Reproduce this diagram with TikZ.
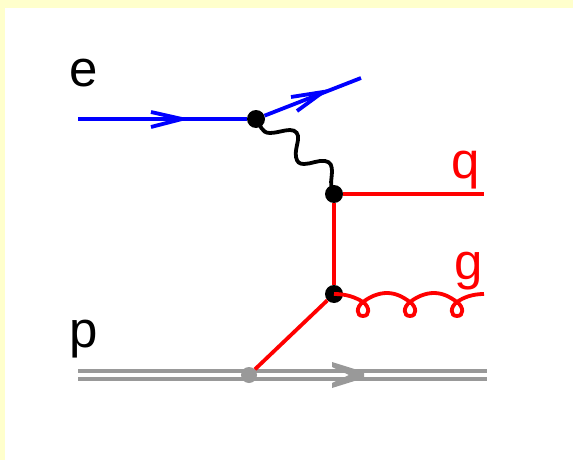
\documentclass[tikz,border=0pt]{standalone}
\usepackage{fontspec}
\setmainfont{Liberation Sans}
\usepackage{tikz}
\usetikzlibrary{positioning,calc}
\definecolor{paleyellow}{RGB}{255,255,204}
\definecolor{protongray}{RGB}{153,153,153}
\tikzset{
  vertexdot/.style={circle,fill=black,inner sep=0pt,minimum size=18pt},
  softdot/.style={circle,fill=protongray,inner sep=0pt,minimum size=16pt},
  lineblue/.style={blue,line width=3.8pt},
  linered/.style={red,line width=3.8pt},
  linewave/.style={black,line width=3.8pt},
  lineproton/.style={protongray,line width=3.6pt,double=white,double distance=4pt},
  lbl/.style={font=\fontsize{51}{51}\selectfont,inner sep=0pt,anchor=base},
}
\begin{document}
\begin{tikzpicture}[x=1pt,y=-1pt]
\useasboundingbox (0,0) rectangle (573,460);
%% Page background
\fill[paleyellow] (0,0) rectangle (573,460);
\fill[white] (5,8) rectangle (573,460);
%% End points
\coordinate (ein) at (78,119);
\coordinate (eout) at (361,78);
\coordinate (qend) at (484,194);
\coordinate (gend) at (484,294);
\coordinate (pin) at (78,375);
\coordinate (pout) at (487,375);
%% Proton
\draw[lineproton] (pin) -- (pout);
\node[softdot] (vsoft) at (249,375) {};
\fill[protongray] (332,362) -- (364,372) -- (364,378) -- (332,388) -- (332,383) -- (349,375) -- (332,367) -- cycle;
%% Electron
\node[vertexdot] (vlep) at (256,119) {};
\draw[lineblue] (ein) -- (vlep);
\draw[lineblue] (vlep) -- (eout);
\draw[lineblue] (151,112) -- (182,119) -- (151,127);
\draw[lineblue] (291,97) -- (323,92) -- (297,111);
%% Quark lines
\node[vertexdot] (vup) at (334,194) {};
\node[vertexdot] (vlow) at (334,294) {};
\draw[linered] (vup) -- (qend);
\draw[linered] (vup) -- (vlow);
\draw[linered] (vlow) -- (vsoft);
%% Photon
\draw[linewave] (vlep.center) .. controls (261,125) and (261,133) .. (270,133)
  .. controls (277,133) and (284,130) .. (290,130)
  .. controls (296,130) and (299,134) .. (298,140)
  .. controls (297,146) and (295,152) .. (296,157)
  .. controls (297,162) and (299,164) .. (304,164)
  .. controls (311,164) and (318,160) .. (325,161)
  .. controls (331,162) and (332,166) .. (332,172)
  .. controls (332,178) and (329,184) .. (vup.center);
%% Gluon
\draw[linered] (vlow.center) .. controls (346,294) and (355,297) .. (363,302)
  .. controls (370,307) and (370,316) .. (363,316)
  .. controls (356,316) and (356,307) .. (363,302)
  .. controls (371,296) and (379,293) .. (387,293)
  .. controls (396,293) and (403,297) .. (410,302)
  .. controls (417,307) and (417,316) .. (410,316)
  .. controls (403,316) and (403,307) .. (410,302)
  .. controls (418,296) and (426,293) .. (434,293)
  .. controls (443,293) and (450,297) .. (457,302)
  .. controls (464,307) and (464,316) .. (457,316)
  .. controls (450,316) and (450,307) .. (457,302)
  .. controls (464,297) and (473,294) .. (gend);
%% Labels
\node[lbl] (lble) at (84,87) {e};
\node[lbl] (lblp) at (84,347) {p};
\node[lbl,text=red] (lblq) at (466,178) {q};
\node[lbl,text=red] (lblg) at (469,279) {g};
\end{tikzpicture}
\end{document}
